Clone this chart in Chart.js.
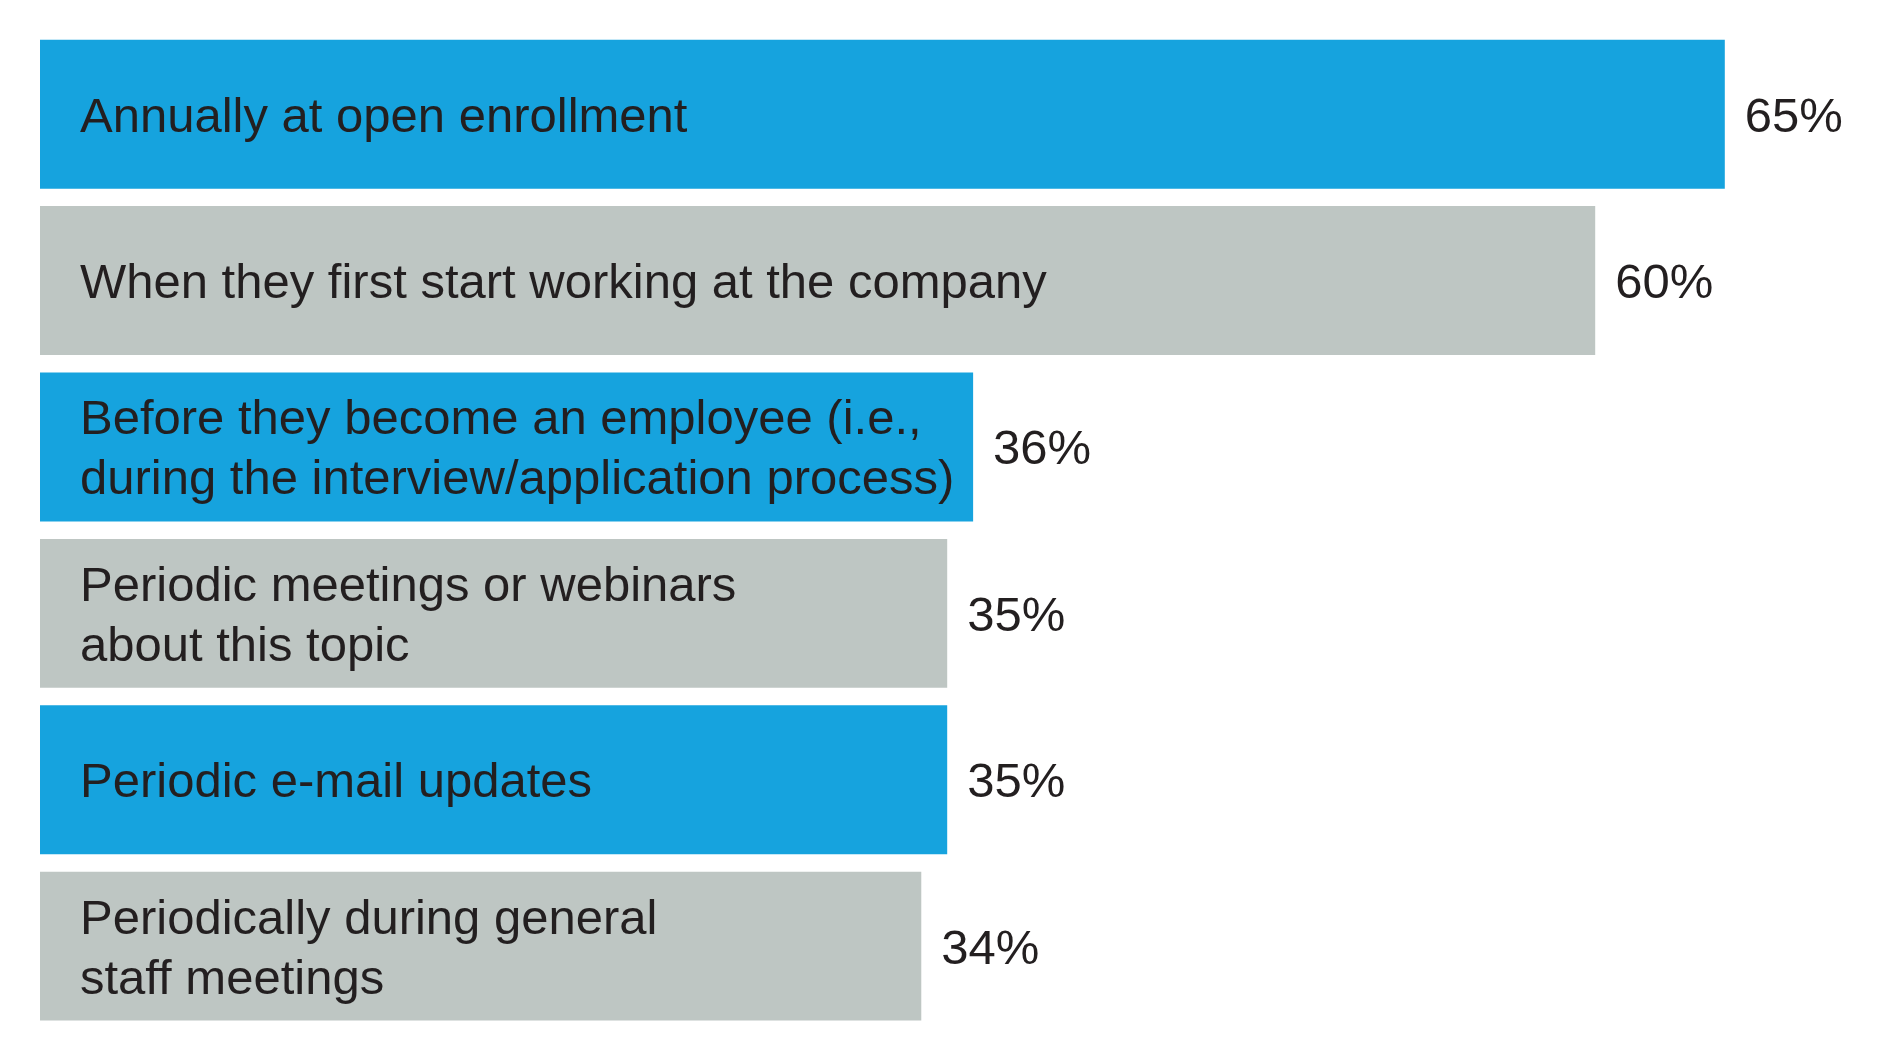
<!DOCTYPE html>
<html>
<head>
<meta charset="utf-8">
<script src="https://cdn.jsdelivr.net/npm/chart.js@4"></script>
<style>
html,body{margin:0;padding:0;background:#fff;}
#wrap{width:1880px;height:1060px;}
</style>
</head>
<body>
<div id="wrap"><canvas id="c" width="1880" height="1060"></canvas></div>
<script>
const categories = [
  ["Annually at open enrollment"],
  ["When they first start working at the company"],
  ["Before they become an employee (i.e.,", "during the interview/application process)"],
  ["Periodic meetings or webinars", "about this topic"],
  ["Periodic e-mail updates"],
  ["Periodically during general", "staff meetings"]
];
const values = [65, 60, 36, 35, 35, 34];
const valueLabels = ["65%", "60%", "36%", "35%", "35%", "34%"];
const barColors = ["#16A3DE", "#BEC6C3", "#16A3DE", "#BEC6C3", "#16A3DE", "#BEC6C3"];

const FONT = '49px "Liberation Sans", Arial, sans-serif';
const TEXT_COLOR = '#231F20';

const labelPlugin = {
  id: 'barLabels',
  afterDatasetsDraw(chart) {
    const ctx = chart.ctx;
    const meta = chart.getDatasetMeta(0);
    ctx.save();
    ctx.font = FONT;
    ctx.fillStyle = TEXT_COLOR;
    ctx.textBaseline = 'middle';
    meta.data.forEach((bar, i) => {
      const lines = categories[i];
      const lh = 60;
      const startY = bar.y - (lines.length - 1) * lh / 2;
      ctx.textAlign = 'left';
      lines.forEach((ln, j) => {
        ctx.fillText(ln, bar.base + 40, startY + j * lh + 4);
      });
      ctx.fillText(valueLabels[i], bar.x + 20, bar.y + 4);
    });
    ctx.restore();
  }
};

new Chart(document.getElementById('c'), {
  type: 'bar',
  data: {
    labels: categories.map(c => c.join(' ')),
    datasets: [{
      data: values,
      backgroundColor: barColors,
      borderWidth: 0,
      categoryPercentage: 1,
      barPercentage: 0.895
    }]
  },
  options: {
    indexAxis: 'y',
    responsive: false,
    animation: false,
    devicePixelRatio: 1,
    layout: { padding: { left: 40, right: 25.6, top: 31, bottom: 30.7 } },
    plugins: { legend: { display: false }, tooltip: { enabled: false } },
    scales: {
      x: { display: false, min: 0, max: 70 },
      y: { display: false }
    }
  },
  plugins: [labelPlugin]
});
</script>
</body>
</html>
